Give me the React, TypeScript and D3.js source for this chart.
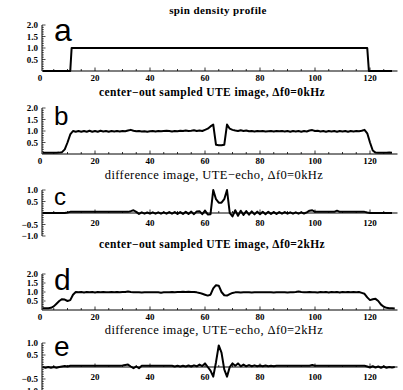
import React, { useEffect, useRef } from "react";
import * as d3 from "d3";

// x positions are 1..128 for the sampled profiles
const profileA_x = [1, 11, 11.5, 119, 119.6, 128];
const profileA_y = [0, 0, 1, 1, 0, 0];

const profileB = [
  0.05, 0.05, 0.05, 0.05, 0.05, 0.05, 0.06, 0.08, 0.2, 0.5, 0.85, 1.0,
  0.97, 1.0, 0.97, 1.0, 0.97, 1.01, 0.97, 1.0, 0.97, 1.01, 0.98, 1.0, 0.97, 1.0, 0.98, 1.0,
  0.98, 1.0, 0.99, 1.02, 1.05, 1.01, 0.99, 1.0, 0.98, 0.99, 0.97, 0.99, 1.0, 0.98, 1.0, 0.99,
  1.0, 1.01, 1.0, 0.98, 1.0, 0.99, 1.01, 1.0, 1.02, 1.0, 1.01, 1.03, 1.0, 1.02, 1.0, 1.05,
  1.1, 1.2, 1.28, 0.4, 0.38, 0.38, 0.4, 1.28, 1.1, 1.05,
  1.02, 1.0, 1.03, 1.0, 1.02, 0.99, 1.0, 0.98, 1.0, 0.99, 1.0, 0.98, 0.99, 1.0, 0.98, 1.0,
  0.99, 1.0, 0.98, 1.0, 0.97, 1.0, 0.98, 1.0, 0.97, 1.0, 0.98, 1.02, 1.04, 1.0, 1.01, 0.98,
  1.0, 0.97, 1.0, 0.98, 1.0, 0.97, 1.0, 0.98, 1.0, 0.97, 1.0, 0.98, 1.0, 0.99, 1.01, 1.05,
  0.9, 0.5, 0.15, 0.06, 0.05, 0.05, 0.05, 0.05, 0.06, 0.05,
];

const profileC = [
  0, 0, 0, 0, 0, 0, 0, 0, 0, 0.02, 0.05, 0.05,
  0.05, 0.05, 0.05, 0.05, 0.05, 0.05, 0.05, 0.05, 0.05, 0.05, 0.05, 0.05, 0.05, 0.05, 0.05, 0.05,
  0.05, 0.05, 0.05, 0.05, 0.08, 0.12, 0.05, -0.04, 0.03, -0.03, 0.02, -0.03, 0.03, -0.03, 0.03, -0.03,
  0.03, -0.03, 0.04, -0.03, 0.04, -0.04, 0.04, -0.04, 0.05, -0.04, 0.06, -0.05, 0.07, 0.08, -0.05, 0.1,
  -0.06, -0.05, 1.0, 0.6, 0.45, 0.45, 0.6, 1.0, 0.0, -0.15,
  0.12, -0.12, 0.1, -0.08, 0.08, -0.07, 0.07, -0.06, 0.06, -0.05, 0.05, -0.05, 0.05, -0.04, 0.04, -0.04,
  0.04, -0.03, 0.04, -0.03, 0.03, -0.03, 0.03, -0.03, 0.03, -0.02, 0.03, 0.1, 0.12, 0.05, 0.05, 0.05,
  0.05, 0.05, 0.05, 0.05, 0.05, 0.1, 0.05, 0.05, 0.05, 0.05, 0.05, 0.05, 0.05, 0.05, 0.05, 0.05,
  0.02, 0, 0, 0, 0, 0, 0, 0, 0, 0,
];

const profileD = [
  0.1, 0.1, 0.1, 0.12, 0.2, 0.35, 0.5, 0.6, 0.58, 0.5, 0.55, 0.85,
  1.0, 0.98, 1.0, 0.97, 1.0, 0.98, 1.0, 0.97, 1.0, 0.98, 1.0, 0.98, 0.99, 1.0, 0.98, 1.0,
  0.98, 1.0, 1.0, 1.03, 1.0, 0.98, 0.98, 0.98, 0.97, 0.98, 0.98, 0.98, 0.98, 0.98, 0.98, 0.96,
  0.98, 0.98, 0.99, 1.0, 0.99, 1.0, 1.0, 1.02, 1.0, 1.02, 1.0, 1.0, 0.98, 0.95, 0.9, 0.85,
  0.8, 0.85, 1.2, 1.38, 1.35, 1.0, 0.82, 0.8, 0.88, 0.95,
  0.98, 0.98, 0.97, 0.98, 0.98, 0.98, 0.97, 0.98, 0.98, 0.98, 0.98, 0.98, 0.98, 0.98, 0.97, 0.98,
  0.98, 0.98, 0.98, 0.97, 0.98, 0.98, 1.0, 1.03, 1.0, 0.99, 0.98, 1.0, 0.98, 0.99, 0.97, 1.0,
  0.98, 1.0, 0.97, 1.0, 0.98, 1.0, 0.97, 1.0, 0.98, 1.0, 0.98, 1.0, 0.98, 1.0, 0.95, 0.9,
  0.7, 0.55, 0.6, 0.62, 0.5, 0.3, 0.18, 0.12, 0.1, 0.1, 0.08,
];

const profileE = [
  0, -0.03, 0, -0.03, 0, -0.03, 0, 0.02, 0.04, 0.02, 0.05, 0.05,
  0.05, 0.05, 0.05, 0.05, 0.05, 0.05, 0.05, 0.05, 0.05, 0.05, 0.05, 0.05, 0.05, 0.05, 0.05, 0.05,
  0.05, 0.06, 0.08, 0.1, 0.02, -0.05, 0.02, -0.05, 0.05, 0.05, 0.05, 0.05, 0.05, 0.05, 0.05, 0.05,
  0.05, 0.05, 0.05, 0.05, 0.02, 0.05, 0.02, 0.05, 0.02, 0.06, 0.02, 0.07, 0.03, 0.1, 0.04, 0.15,
  0.0, -0.15, -0.4, 0.2, 0.9, 0.6, -0.1, -0.4, 0.0, 0.15,
  0.05, 0.15, 0.03, 0.1, 0.03, 0.08, 0.03, 0.07, 0.03, 0.06, 0.03, 0.06, 0.03, 0.05, 0.03, 0.05,
  0.05, 0.05, 0.05, 0.05, 0.05, 0.05, 0.05, 0.05, 0.05, 0.05, 0.05, 0.05, 0.08, 0.05, 0.05, 0.05,
  0.05, 0.05, 0.05, 0.05, 0.05, 0.05, 0.05, 0.05, 0.05, 0.05, 0.05, 0.05, 0.05, 0.05, 0.05, 0.05,
  0.02, -0.02, 0.03, -0.02, 0.02, -0.03, 0.02, -0.03, 0, -0.02, 0,
];

const titles = [
  "spin density profile",
  "center\u2212out sampled UTE image, \u0394f0=0kHz",
  "difference image, UTE\u2212echo, \u0394f0=0kHz",
  "center\u2212out sampled UTE image, \u0394f0=2kHz",
  "difference image, UTE\u2212echo, \u0394f0=2kHz",
];
const letters = ["a", "b", "c", "d", "e"];
const xTickValues = [0, 20, 40, 60, 80, 100, 120];
const posTicks = [0.5, 1.0, 1.5, 2.0];
const symTicks = [-1.0, -0.5, 0.5, 1.0];

const seq = (arr: number[]) => arr.map((v, i) => ({ x: i + 1, y: v }));

const panels = [
  { kind: "pos", data: profileA_x.map((x, i) => ({ x, y: profileA_y[i] })), y0: 71, yTop: 25, titleX: 218, titleY: 14, titleSize: 11, bold: true, letterX: 54, letterY: 41, letterSize: 32 },
  { kind: "pos", data: seq(profileB), y0: 154, yTop: 108, titleX: 212, titleY: 96, titleSize: 11.5, bold: true, letterX: 54, letterY: 125, letterSize: 26 },
  { kind: "sym", data: seq(profileC), y0: 213, yTop: 190, titleX: 214, titleY: 179, titleSize: 12.5, bold: false, letterX: 54, letterY: 205, letterSize: 24 },
  { kind: "pos", data: seq(profileD), y0: 310, yTop: 274, titleX: 212, titleY: 248, titleSize: 11.5, bold: true, letterX: 54, letterY: 290, letterSize: 30 },
  { kind: "sym", data: seq(profileE), y0: 367, yTop: 343, titleX: 214, titleY: 334, titleSize: 12.5, bold: false, letterX: 54, letterY: 356, letterSize: 28 },
];

export default function App() {
  const ref = useRef<SVGSVGElement>(null);

  useEffect(() => {
    const svg = d3.select(ref.current);
    svg.selectAll("*").remove();

    const x = d3.scaleLinear().domain([0, 130]).range([40, 397.5]);
    const axisX = 42;
    const serif = "'Liberation Serif', 'DejaVu Serif', serif";

    panels.forEach((p, i) => {
      const g = svg.append("g");
      const sym = p.kind === "sym";
      const y = d3
        .scaleLinear()
        .domain(sym ? [0, 1] : [0, 2])
        .range([p.y0, p.yTop]);

      // title
      g.append("text")
        .attr("x", p.titleX)
        .attr("y", p.titleY)
        .attr("text-anchor", "middle")
        .attr("font-family", serif)
        .attr("font-weight", p.bold ? "bold" : "normal")
        .attr("font-size", p.titleSize)
        .attr("letter-spacing", 0.4)
        .text(titles[i]);

      // horizontal axis
      g.append("line")
        .attr("x1", axisX).attr("x2", x(130))
        .attr("y1", p.y0).attr("y2", p.y0)
        .attr("stroke", "#000").attr("stroke-width", 1);

      d3.range(5, 130, 5).forEach((t) => {
        const major = t % 20 === 0;
        g.append("line")
          .attr("x1", x(t)).attr("x2", x(t))
          .attr("y1", p.y0).attr("y2", p.y0 - (major ? 3.5 : 2))
          .attr("stroke", "#000").attr("stroke-width", 0.8);
      });

      xTickValues.forEach((t) => {
        if (sym && t === 0) return;
        g.append("text")
          .attr("x", x(t))
          .attr("y", p.y0 + (sym ? 12.5 : 9.5))
          .attr("text-anchor", "middle")
          .attr("font-family", serif)
          .attr("font-weight", "bold")
          .attr("font-size", 9)
          .text(t);
      });

      // vertical axis
      const yMin = sym ? -1 : 0;
      const yMax = sym ? 1 : 2;
      g.append("line")
        .attr("x1", axisX).attr("x2", axisX)
        .attr("y1", y(yMin)).attr("y2", y(yMax))
        .attr("stroke", "#000").attr("stroke-width", 1);

      d3.range(Math.round(yMin * 10), Math.round(yMax * 10) + 1).forEach((k) => {
        const v = k / 10;
        if (k === 0) return;
        const major = k % 5 === 0;
        g.append("line")
          .attr("x1", axisX).attr("x2", axisX + (major ? 3.5 : 1.8))
          .attr("y1", y(v)).attr("y2", y(v))
          .attr("stroke", "#000").attr("stroke-width", 0.7);
      });

      (sym ? symTicks : posTicks).forEach((v) => {
        g.append("text")
          .attr("x", axisX - 4)
          .attr("y", y(v))
          .attr("dy", "0.35em")
          .attr("text-anchor", "end")
          .attr("font-family", serif)
          .attr("font-weight", "bold")
          .attr("font-size", 9)
          .text(d3.format(".1f")(v).replace("-", "\u2212"));
      });

      // panel letter
      g.append("text")
        .attr("x", p.letterX)
        .attr("y", p.letterY)
        .attr("font-family", "'Liberation Sans', Arial, sans-serif")
        .attr("font-size", p.letterSize)
        .text(letters[i]);

      // data curve
      const line = d3
        .line<{ x: number; y: number }>()
        .x((d) => x(d.x))
        .y((d) => y(d.y));

      g.append("path")
        .datum(p.data)
        .attr("d", line)
        .attr("fill", "none")
        .attr("stroke", "#000")
        .attr("stroke-width", 2)
        .attr("stroke-linejoin", "round");
    });
  }, []);

  return (
    <svg
      ref={ref}
      width={403}
      height={390}
      style={{ position: "absolute", left: 0, top: 0, background: "#fff" }}
    />
  );
}
